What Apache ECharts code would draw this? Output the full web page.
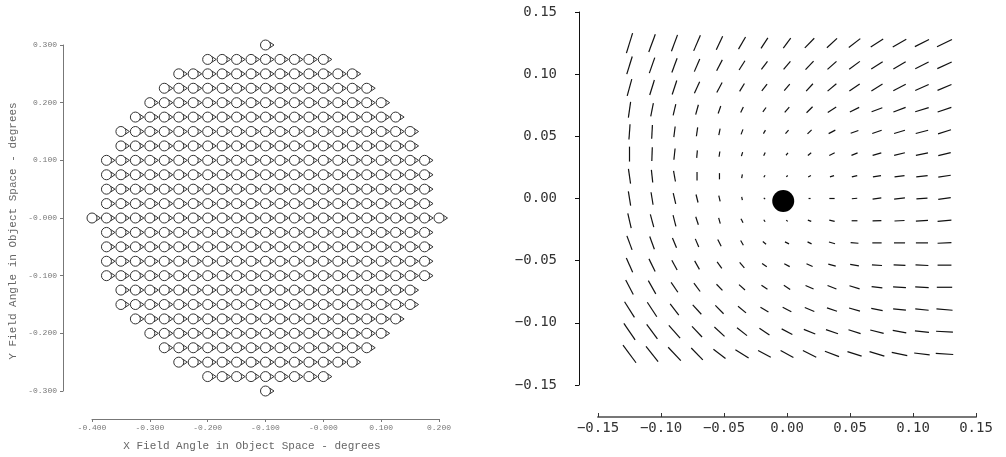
<!DOCTYPE html>
<html>
<head>
<meta charset="utf-8">
<script src="https://cdn.jsdelivr.net/npm/echarts@6/dist/echarts.min.js"></script>
<style>
  html, body { margin: 0; padding: 0; background: #fff; }
  #chart { width: 1006px; height: 457px; }
</style>
</head>
<body>
<div id="chart"></div>
<script>
// ---- left panel: field points, one row per y (top to bottom), step 0.025 in x
var fieldStep = 0.025;
var fieldRowY    = [0.300, 0.275, 0.250, 0.225, 0.200, 0.175, 0.150, 0.125, 0.100, 0.075, 0.050, 0.025, 0.000,
                    -0.025, -0.050, -0.075, -0.100, -0.125, -0.150, -0.175, -0.200, -0.225, -0.250, -0.275, -0.300];
var fieldRowXMin = [-0.100, -0.200, -0.250, -0.275, -0.300, -0.325, -0.350, -0.350, -0.375, -0.375, -0.375, -0.375, -0.400,
                    -0.375, -0.375, -0.375, -0.375, -0.350, -0.350, -0.325, -0.300, -0.275, -0.250, -0.200, -0.100];
var fieldRowXMax = [-0.100, 0.000, 0.050, 0.075, 0.100, 0.125, 0.150, 0.150, 0.175, 0.175, 0.175, 0.175, 0.200,
                    0.175, 0.175, 0.175, 0.175, 0.150, 0.150, 0.125, 0.100, 0.075, 0.050, 0.000, -0.100];

// ---- right panel: 15 x 15 grid of line segments
var gridX = [-0.125, -0.1071, -0.0893, -0.0714, -0.0536, -0.0357, -0.0179, 0,
             0.0179, 0.0357, 0.0536, 0.0714, 0.0893, 0.1071, 0.125];
var gridY = [0.125, 0.1071, 0.0893, 0.0714, 0.0536, 0.0357, 0.0179, 0,
             -0.0179, -0.0357, -0.0536, -0.0714, -0.0893, -0.1071, -0.125];
// segment direction in degrees (counter-clockwise from +x), rows follow gridY
var segAngle = [
  [73, 70, 70, 67, 65, 60, 57, 54, 46, 43, 38, 33, 30, 27, 26],
  [73, 71, 70, 67, 63, 58, 53, 50, 47, 42, 37, 33, 31, 27, 25],
  [75, 73, 72, 66, 62, 59, 52, 50, 48, 40, 35, 32, 28, 24, 23],
  [82, 79, 77, 75, 71, 65, 55, 50, 45, 33, 27, 21, 21, 17, 19],
  [86, 87, 83, 82, 79, 70, 60, 50, 45, 28, 20, 19, 17, 15, 18],
  [90, 88, 84, 85, 82, 73, 66, 50, 39, 27, 23, 17, 14, 12, 14],
  [-82, -84, -80, 90, 90, 80, 58, 45, 27, 18, 14, 10, 8, 7, 9],
  [-81, -81, -77, -76, -77, -79, -45, 0, 0, 0, 5, 8, 6, 4, 8],
  [-77, -75, -76, -72, -75, -63, -56, -40, -22, -14, 0, 2, 3, 3, 5],
  [-70, -70, -68, -67, -63, -60, -40, -27, -27, -16, -5, 0, 0, 0, 3],
  [-66, -64, -62, -61, -55, -49, -36, -29, -24, -15, -9, -4, -3, -3, 0],
  [-63, -61, -56, -54, -46, -42, -35, -34, -24, -22, -17, -7, -4, -3, 0],
  [-58, -57, -53, -48, -46, -40, -31, -28, -23, -19, -16, -11, -6, -6, -5],
  [-56, -54, -49, -47, -43, -39, -34, -28, -22, -19, -18, -14, -11, -6, -3],
  [-54, -52, -47, -46, -38, -32, -28, -29, -27, -21, -18, -17, -12, -7, -4]
];
// segment length, in thousandths of an axis unit
var segLen = [
  [16.8, 15.2, 14.1, 13.6, 12.0, 11.2, 10.0, 10.0, 10.8, 11.0, 11.6, 11.8, 12.4, 12.6, 13.2],
  [14.8, 13.2, 12.2, 11.0, 9.9, 8.8, 8.0, 8.4, 9.4, 9.6, 10.6, 10.8, 11.4, 11.9, 12.6],
  [14.0, 12.6, 11.8, 10.2, 9.0, 7.4, 6.8, 6.8, 8.0, 9.1, 10.0, 10.4, 11.2, 11.7, 12.0],
  [12.8, 10.9, 9.4, 8.3, 6.4, 5.0, 4.4, 5.6, 6.8, 8.0, 8.3, 9.1, 10.4, 11.2, 11.5],
  [12.4, 11.0, 8.6, 7.2, 5.4, 4.3, 3.2, 3.8, 4.6, 6.0, 6.5, 7.9, 9.0, 10.2, 10.8],
  [12.0, 11.0, 9.1, 6.0, 4.3, 3.4, 2.9, 2.4, 3.4, 4.8, 5.3, 7.2, 8.8, 9.8, 10.2],
  [12.0, 10.2, 8.6, 6.7, 5.0, 3.2, 1.9, 1.6, 2.4, 3.4, 4.4, 6.5, 8.0, 9.1, 10.0],
  [11.6, 10.2, 8.8, 6.6, 4.9, 2.7, 1.5, 0.8, 1.6, 4.2, 4.3, 7.0, 8.6, 8.8, 10.0],
  [12.0, 10.5, 9.3, 6.7, 4.9, 3.6, 1.9, 1.6, 2.9, 4.4, 4.6, 7.0, 8.0, 9.6, 11.0],
  [12.0, 10.8, 8.6, 7.0, 6.0, 4.3, 3.4, 3.6, 3.6, 5.0, 6.2, 7.4, 8.8, 9.6, 11.0],
  [12.4, 11.2, 9.0, 7.8, 6.5, 5.7, 4.6, 4.9, 5.3, 6.1, 7.0, 8.0, 9.4, 10.2, 11.0],
  [13.2, 12.2, 9.6, 8.4, 6.8, 6.4, 5.8, 6.1, 7.0, 7.6, 8.4, 8.6, 10.2, 10.7, 12.2],
  [14.8, 13.9, 11.4, 10.2, 9.4, 8.3, 7.4, 7.8, 8.2, 8.4, 9.0, 9.2, 10.2, 10.7, 12.8],
  [16.0, 14.5, 13.6, 11.7, 11.0, 10.2, 9.6, 9.6, 9.8, 10.1, 10.1, 11.0, 10.9, 11.2, 13.4],
  [17.6, 15.6, 14.7, 13.2, 12.2, 12.4, 11.4, 11.6, 11.9, 12.0, 11.8, 12.3, 12.6, 12.4, 13.9]
];
var centerDot = [-0.003, -0.002];

// build series data
var fieldPts = [];
for (var r = 0; r < fieldRowY.length; r++) {
  var n = Math.round((fieldRowXMax[r] - fieldRowXMin[r]) / fieldStep);
  for (var k = 0; k <= n; k++) {
    fieldPts.push([fieldRowXMin[r] + k * fieldStep, fieldRowY[r]]);
  }
}
var segData = [];
for (var i = 0; i < gridY.length; i++) {
  for (var j = 0; j < gridX.length; j++) {
    segData.push([gridX[j], gridY[i], segAngle[i][j], segLen[i][j]]);
  }
}

var chart = echarts.init(document.getElementById('chart'));

var leftLabel = { fontSize: 8, fontFamily: 'Liberation Mono', color: '#777' };
var rightLabel = { fontSize: 14, fontFamily: 'DejaVu Sans Mono', color: '#333' };

function fmt3(v) {
  if (Math.abs(v) < 1e-9) return '-0.000';
  return v.toFixed(3);
}
function fmt2(v) {
  var s = Math.abs(v).toFixed(2);
  return v < -1e-9 ? '\u2212' + s : s;
}

var option = {
  animation: false,
  backgroundColor: '#fff',
  grid: [
    { left: 92, top: 45, width: 347, height: 346 },
    { left: 598, top: 12, width: 378, height: 373 }
  ],
  xAxis: [
    {
      gridIndex: 0, type: 'value', min: -0.4, max: 0.2, interval: 0.1, offset: 28,
      axisLine: { onZero: false, lineStyle: { color: '#777', width: 1 } },
      axisTick: { length: 3, lineStyle: { color: '#777' } },
      splitLine: { show: false },
      axisLabel: Object.assign({ margin: 5, formatter: fmt3 }, leftLabel)
    },
    {
      gridIndex: 1, type: 'value', min: -0.15, max: 0.15, interval: 0.05, offset: 32,
      axisLine: { onZero: false, lineStyle: { color: '#777', width: 2 } },
      axisTick: { inside: true, length: 4, lineStyle: { color: '#333' } },
      splitLine: { show: false },
      axisLabel: Object.assign({ margin: 4, formatter: fmt2 }, rightLabel)
    }
  ],
  yAxis: [
    {
      gridIndex: 0, type: 'value', min: -0.3, max: 0.3, interval: 0.1, offset: 29,
      axisLine: { onZero: false, lineStyle: { color: '#777', width: 1 } },
      axisTick: { length: 3, lineStyle: { color: '#777' } },
      splitLine: { show: false },
      axisLabel: Object.assign({ margin: 6, formatter: fmt3 }, leftLabel)
    },
    {
      gridIndex: 1, type: 'value', min: -0.15, max: 0.15, interval: 0.05, offset: 19,
      axisLine: { onZero: false, lineStyle: { color: '#111', width: 1 } },
      axisTick: { length: 4, lineStyle: { color: '#111' } },
      splitLine: { show: false },
      axisLabel: Object.assign({ margin: 22, formatter: fmt2 }, rightLabel)
    }
  ],
  graphic: [
    {
      type: 'text', x: 13, y: 231, rotation: Math.PI / 2,
      style: { text: 'Y Field Angle in Object Space - degrees', fill: '#666',
               font: '11px "Liberation Mono"', align: 'center', verticalAlign: 'middle' }
    },
    {
      type: 'text', x: 252, y: 446,
      style: { text: 'X Field Angle in Object Space - degrees', fill: '#666',
               font: '11px "Liberation Mono"', align: 'center', verticalAlign: 'middle' }
    }
  ],
  series: [
    {
      type: 'custom', xAxisIndex: 0, yAxisIndex: 0,
      data: fieldPts,
      encode: { x: 0, y: 1 },
      renderItem: function (params, api) {
        var c = api.coord([api.value(0), api.value(1)]);
        return {
          type: 'group',
          children: [
            { type: 'circle', shape: { cx: c[0], cy: c[1], r: 5 },
              style: { fill: 'none', stroke: '#333', lineWidth: 1 } },
            { type: 'polyline',
              shape: { points: [[c[0] + 4, c[1] - 3], [c[0] + 8.5, c[1]], [c[0] + 4, c[1] + 3]] },
              style: { fill: 'none', stroke: '#333', lineWidth: 1 } }
          ]
        };
      }
    },
    {
      type: 'custom', xAxisIndex: 1, yAxisIndex: 1,
      data: segData,
      encode: { x: 0, y: 1 },
      renderItem: function (params, api) {
        var x = api.value(0), y = api.value(1);
        var a = api.value(2) * Math.PI / 180;
        var h = api.value(3) / 2000;
        var p1 = api.coord([x - h * Math.cos(a), y - h * Math.sin(a)]);
        var p2 = api.coord([x + h * Math.cos(a), y + h * Math.sin(a)]);
        return {
          type: 'line',
          shape: { x1: p1[0], y1: p1[1], x2: p2[0], y2: p2[1] },
          style: { stroke: '#111', lineWidth: 1.2 }
        };
      }
    },
    {
      type: 'scatter', xAxisIndex: 1, yAxisIndex: 1,
      data: [centerDot],
      symbolSize: 22,
      itemStyle: { color: '#000', opacity: 1 },
      z: 5
    }
  ]
};

chart.setOption(option);
window.onresize = chart.resize;
</script>
</body>
</html>
